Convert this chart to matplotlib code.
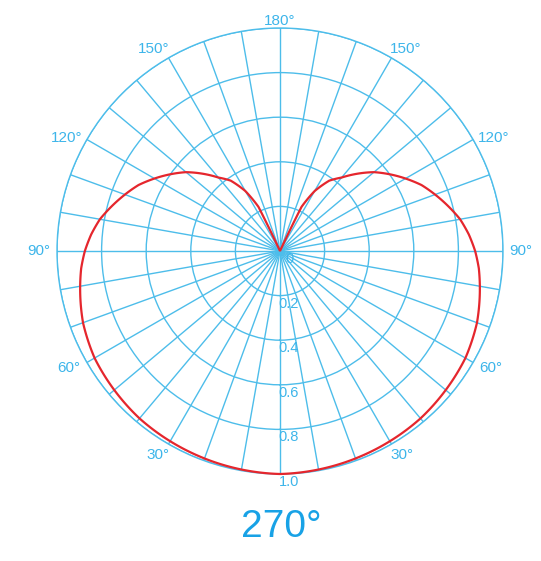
import numpy as np
import matplotlib.pyplot as plt
from matplotlib.path import Path
from matplotlib.patches import PathPatch

plt.rcParams['font.family'] = ['Liberation Sans', 'DejaVu Sans']

# pickup pattern, angle measured from the front (bottom) toward the rear (top)
angles = [0, 10, 20, 30, 40, 50, 60, 70, 80, 85, 90, 95, 100, 105, 110, 115, 120, 125,
          130, 135, 140, 145, 150, 154, 155, 160, 170, 180]
response = [1.0, 0.995, 0.99, 0.985, 0.98, 0.97, 0.96, 0.94, 0.91, 0.895, 0.875, 0.85, 0.82, 0.78, 0.74, 0.70,
            0.65, 0.60, 0.55, 0.49, 0.43, 0.385, 0.31, 0.22, 0.0, 0.0, 0.0, 0.0]

ring_values = [0.2, 0.4, 0.6, 0.8, 1.0]
ring_labels = ['0', '0.2', '0.4', '0.6', '0.8', '1.0']
angle_labels = [30, 60, 90, 120, 150, 180]
title = '270°'

grid_color = '#4DBDEA'
text_color = '#3DB5EA'
curve_color = '#E5262D'

W, H = 541, 561
fig = plt.figure(figsize=(W / 100, H / 100), dpi=100)
cx, cy, R = 280, 251, 223
ax = fig.add_axes([(cx - R) / W, (H - cy - R) / H, 2 * R / W, 2 * R / H], projection='polar')

ax.set_theta_zero_location('S')
ax.set_theta_direction(1)
ax.set_rlim(0, 1)
ax.set_thetagrids(np.arange(0, 360, 10), labels=[])
ax.set_rgrids(ring_values, labels=[])
ax.tick_params(length=0)
ax.grid(True, color=grid_color, lw=1.0)
ax.spines['polar'].set_color(grid_color)
ax.spines['polar'].set_linewidth(1.0)

# mirror the half pattern onto the other side
a = np.array(angles, dtype=float)
r = np.array(response)
theta = np.deg2rad(np.concatenate([a, 360 - a[::-1]]))
rr = np.concatenate([r, r[::-1]])
# path is stepped along theta by the polar transform, so segments follow arcs
curve = Path(np.column_stack([theta, rr]), _interpolation_steps=40)
ax.add_patch(PathPatch(curve, transform=ax.transData, fill=False,
                       edgecolor=curve_color, lw=1.6, zorder=5, clip_on=False))

# angle labels on both sides, nudged toward the horizontal, pushed out by text extent
for deg in angle_labels:
    sides = [deg] if deg == 180 else [deg, 360 - deg]
    shift = {90: 0, 180: 0, 30: 1, 60: 1}.get(deg, 2)
    for d in sides:
        toward = 1 if (deg < 90) == (d < 180) else -1
        t = np.deg2rad(d + toward * shift)
        r_px = R + 2 + 16 * abs(np.sin(t)) + 5 * abs(np.cos(t))
        ax.text(t, r_px / R, f'{deg}°', ha='center', va='center',
                fontsize=11, color=text_color, clip_on=False)

# radial scale along the front axis
for v, lab in zip([0.0] + ring_values, ring_labels):
    ax.annotate(lab, xy=(0, v), xytext=(9, -8), textcoords='offset pixels',
                ha='center', va='center', fontsize=10.5, color=text_color,
                annotation_clip=False)

fig.text(281.5 / W, 1 - 527 / H, title, ha='center', va='center',
         fontsize=28, color='#18A2E6')

fig.savefig('out.png', dpi=100)
